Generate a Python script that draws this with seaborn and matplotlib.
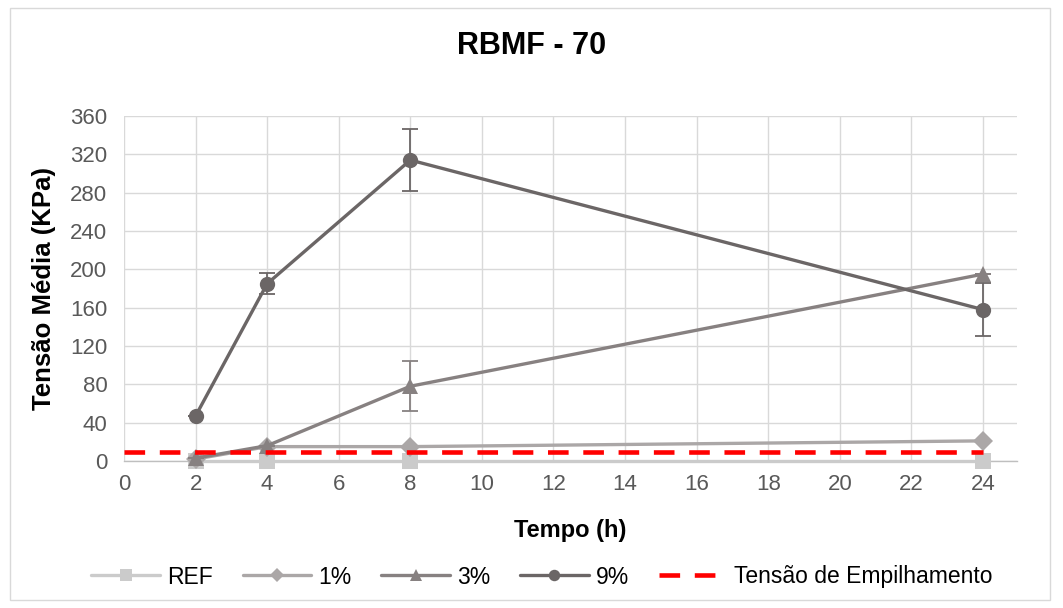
import matplotlib
matplotlib.use("Agg")
import matplotlib.pyplot as plt
import seaborn as sns
import pandas as pd
from matplotlib.patches import Rectangle

tempo = [2, 4, 8, 24]
ref = [0, 0, 0, 0]
p1 = [2, 15, 15, 21]
p3 = [3, 16, 78, 195]
p9 = [47, 185, 314, 158]
p3_err = [0, 0, 26, 0]
p9_err = [0, 11, 32, 28]
tensao_empilhamento = 9
x_ticks = list(range(0, 25, 2))
y_ticks = list(range(0, 361, 40))

series = [("REF", ref, None, "#cbcbcb", "s"),
          ("1%", p1, None, "#aba7a7", "D"),
          ("3%", p3, p3_err, "#878181", "^"),
          ("9%", p9, p9_err, "#6b6666", "o")]

sns.set_theme(style="white")
plt.rcParams['font.family'] = ['Liberation Sans', 'DejaVu Sans']

fig = plt.figure(figsize=(10.63, 6.08), dpi=100)
ax = fig.add_axes([124/1063, 1-461/608, (1017-124)/1063, (461-116)/608])

for i, (name, vals, err, col, mk) in enumerate(series):
    df = pd.DataFrame({"Tempo": tempo, "Tensao": vals})
    ms = 10 if mk == "D" else 11
    sns.lineplot(data=df, x="Tempo", y="Tensao", ax=ax, color=col, marker=mk,
                 markersize=ms, markeredgewidth=0, linewidth=2.4, label=name,
                 zorder=3 + i, clip_on=False)
    if err is not None:
        ax.errorbar(tempo, vals, yerr=err, fmt="none", ecolor=col, elinewidth=1.3,
                    capsize=6, capthick=1.3, zorder=3 + i, clip_on=False)

ax.plot([0, 24], [tensao_empilhamento, tensao_empilhamento], color="#ff0000",
        linestyle=(0, (4.5, 3.2)), linewidth=3.3, label="Tensão de Empilhamento", zorder=8)

if ax.get_legend() is not None:
    ax.get_legend().remove()

ax.set_xlim(0, 24.95)
ax.set_ylim(0, 360)
ax.set_xticks(x_ticks)
ax.set_yticks(y_ticks)
ax.grid(True, color="#d9d9d9", linewidth=1.0)
for s in ["top", "right", "left"]:
    ax.spines[s].set_visible(False)
ax.spines["bottom"].set_color("#bfbfbf")
ax.spines["bottom"].set_linewidth(1.0)
ax.tick_params(axis="both", colors="#595959", labelsize=16, length=0)
ax.tick_params(axis="y", pad=12)
ax.tick_params(axis="x", pad=9)

ax.set_xlabel("Tempo (h)", fontsize=17, fontweight="bold", color="#000000", labelpad=18)
ax.set_ylabel("Tensão Média (KPa)", fontsize=18.5, fontweight="bold", color="#000000", labelpad=10)
fig.text(0.5, 1 - 46/608, "RBMF - 70", ha="center", va="center", fontsize=22,
         fontweight="bold", color="#000000")

handles, labels = ax.get_legend_handles_labels()
leg = fig.legend(handles, labels, loc="center", bbox_to_anchor=(0.51, 1 - 577/608),
                 ncol=5, frameon=False, fontsize=16.5, handlelength=3.0,
                 columnspacing=1.3, handletextpad=0.3, markerscale=0.75)
for t in leg.get_texts():
    t.set_color("#000000")

fig.patches.append(Rectangle((10/1063, 1 - 600/608), 1040/1063, 592/608,
                             transform=fig.transFigure, fill=False,
                             edgecolor="#d9d9d9", linewidth=1.0))

fig.savefig("out.png", dpi=100)
